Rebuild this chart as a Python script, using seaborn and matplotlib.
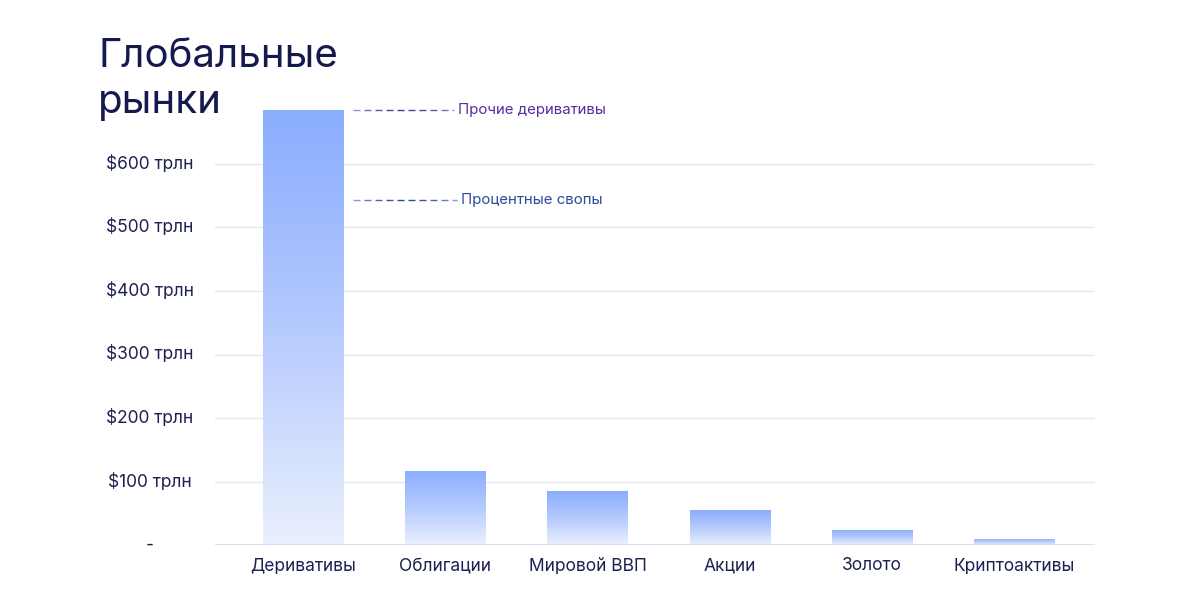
import numpy as np
import pandas as pd
import matplotlib
matplotlib.use("Agg")
import matplotlib.pyplot as plt
import seaborn as sns
from matplotlib.colors import LinearSegmentedColormap

categories = ["Деривативы", "Облигации", "Мировой ВВП", "Акции", "Золото", "Криптоактивы"]
values = [685, 117, 85, 55, 24, 9.5]
tick_values = [0, 100, 200, 300, 400, 500, 600]
tick_labels = ["-", "$100 трлн", "$200 трлн", "$300 трлн", "$400 трлн", "$500 трлн", "$600 трлн"]
title = "Глобальные\nрынки"
ann_labels = ["Прочие деривативы", "Процентные свопы"]
ann_values = [685, 543]
ann_colors = ["#5a2ca0", "#2b4b9b"]

sns.set_theme(style="white")
plt.rcParams['font.family'] = ['Inter', 'DejaVu Sans']

navy = "#1c2150"
fig = plt.figure(figsize=(12, 6.06), dpi=100)
ax = fig.add_axes([215/1200, (606-545)/606, (1095-215)/1200, (545-100.5)/606])

df = pd.DataFrame({"cat": categories, "val": values})
sns.barplot(data=df, x="cat", y="val", ax=ax, width=0.563, color="#8aaeff", saturation=1)

cmap = LinearSegmentedColormap.from_list("g", ["#eaf0fe", "#b5cafd", "#8aadff"])
grad = np.linspace(0, 1, 256).reshape(-1, 1)
for p in ax.patches:
    x0, y0 = p.get_x(), p.get_y()
    w, h = p.get_width(), p.get_height()
    im = ax.imshow(grad, cmap=cmap, origin="lower", aspect="auto",
                   extent=[x0, x0 + w, y0, y0 + h], zorder=2, interpolation="bicubic")
    im.set_clip_path(p)
    p.set_facecolor("none")
    p.set_edgecolor("none")

for v in tick_values[1:]:
    ax.axhline(v, color="#e1e6ef", lw=1, zorder=0.5)
ax.axhline(0, color="#d3d9e6", lw=1.2, zorder=3)

ax.set_yticks(tick_values)
ax.set_yticklabels(tick_labels, fontsize=12.5, color=navy)
for t in ax.get_yticklabels():
    t.set_horizontalalignment("center")
    t.set_verticalalignment("center")
ax.tick_params(axis="y", length=0, pad=47)
ax.tick_params(axis="x", length=0, pad=9, labelsize=12.5, labelcolor=navy)
ax.set_xlabel("")
ax.set_ylabel("")
ax.set_xlim(-0.62, 5.57)
ax.set_ylim(0, 700)
for s in ax.spines.values():
    s.set_visible(False)

# annotations: faded dashed leader lines
px = 1 / 142.0  # one pixel in category units
for lab, v, c, xt in zip(ann_labels, ann_values, ann_colors, [1.088, 1.11]):
    xstart = 0.35
    xend = xt - 4 * px
    period = 11 * px
    n = int(np.ceil((xend - xstart) / period))
    for i in range(n):
        a0 = xstart + i * period
        a1 = min(a0 + 7 * px, xend)
        frac = i / max(n - 1, 1)
        alpha = 0.3 + 0.7 * np.sin(np.pi * (0.12 + 0.76 * frac))
        ax.plot([a0, a1], [v, v], lw=1, color=c, alpha=alpha,
                solid_capstyle="butt", zorder=3)
    ax.text(xt, v, lab, color=c, fontsize=10.8, va="center", ha="left")

fig.text(98/1200, 0.937, title, fontsize=29, color="#141a4d", va="top", ha="left",
         linespacing=1.3)

fig.savefig("out.png", dpi=100, facecolor="white")
